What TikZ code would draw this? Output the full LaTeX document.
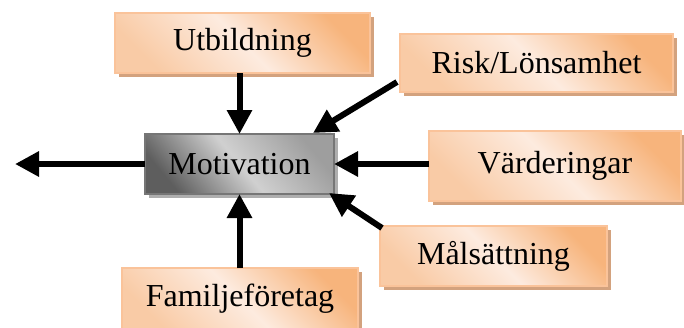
\documentclass[tikz,border=0pt]{standalone}
\usepackage{fontspec}
\setmainfont{Liberation Serif}
\usetikzlibrary{arrows.meta,shadows,calc}

\definecolor{peachDark}{HTML}{F7B47C}
\definecolor{peachMid}{HTML}{F9CBA6}
\definecolor{peachLight}{HTML}{FDEBDF}
\definecolor{peachEdge}{HTML}{FAC39A}
\definecolor{peachShadow}{HTML}{D3A27E}
\definecolor{greyDark}{HTML}{5E5E5E}
\definecolor{greyMid}{HTML}{9E9E9E}
\definecolor{greyLight}{HTML}{D0D0D0}
\definecolor{greyEdge}{HTML}{767676}
\definecolor{greyShadow}{HTML}{AEAEAE}

\tikzset{
  factor/.style={
    draw=peachEdge, line width=1.5bp,
    top color=peachDark, bottom color=peachMid, middle color=peachLight,
    shading angle=-45,
    drop shadow={shadow xshift=4bp, shadow yshift=-4bp, fill=peachShadow, opacity=1},
    inner sep=0pt, outer sep=0pt, align=center,
    font=\fontsize{32bp}{36bp}\selectfont
  },
  core/.style={
    draw=greyEdge, line width=1.5bp,
    top color=greyMid, bottom color=greyDark, middle color=greyLight,
    shading angle=-50,
    drop shadow={shadow xshift=4bp, shadow yshift=-4bp, fill=greyShadow, opacity=1},
    inner sep=0pt, outer sep=0pt, align=center,
    font=\fontsize{32bp}{36bp}\selectfont
  },
  push/.style={line width=6bp, -{Triangle[length=24bp, width=24bp]}, black}
}

\begin{document}
\begin{tikzpicture}[x=1bp, y=-1bp]
  \useasboundingbox (0,0) rectangle (684,327);

  % influencing factors
  \node[factor, minimum width=255bp, minimum height=60bp] (utb)  at (242.5,43)  {Utbildning};
  \node[factor, minimum width=273bp, minimum height=58bp] (risk) at (536.5,63)  {Risk/Lönsamhet};
  \node[factor, minimum width=252bp, minimum height=70bp] (vard) at (555,166)   {Värderingar};
  \node[factor, minimum width=227bp, minimum height=60bp] (mal)  at (493.5,256) {Målsättning};
  \node[factor, minimum width=236bp, minimum height=62bp] (fam)  at (240,299)   {Familjeföretag};

  % central node
  \node[core, minimum width=189bp, minimum height=60bp] (mot) at (239.5,164) {Motivation};

  \coordinate (out) at (15,164);

  % arrows into the central node
  \draw[push] (mot.north |- utb.south) -- (mot.north);
  \draw[push] ($(risk.south west)+(-3,-10)$) -- ($(mot.north east)+(-21,-1)$);
  \draw[push] (vard.west |- mot.east) -- (mot.east);
  \draw[push] ($(mal.north west)+(2,2)$) -- ($(mot.south east)+(-5,-1)$);
  \draw[push] (mot.south |- fam.north) -- (mot.south);

  % outgoing arrow
  \draw[push] (mot.west) -- (out);
\end{tikzpicture}
\end{document}
